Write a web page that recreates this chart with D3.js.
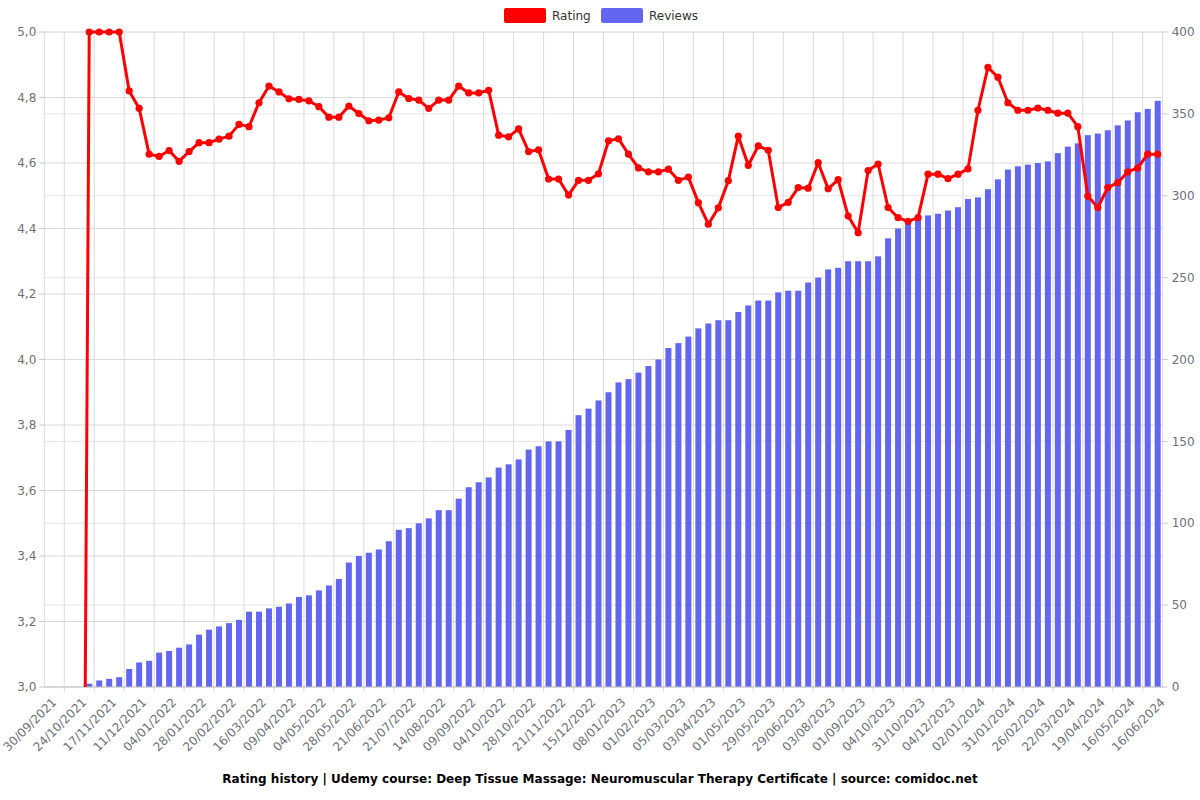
<!DOCTYPE html>
<html>
<head>
<meta charset="utf-8">
<script src="https://cdn.jsdelivr.net/npm/d3@7"></script>
<style>
  body { margin: 0; background: #fff; }
  svg text { font-family: "DejaVu Sans", sans-serif; }
</style>
</head>
<body>
<svg id="chart" width="1200" height="800"></svg>
<script>
// tick labels shown on the x axis (one every 3 snapshots)
const tickLabels = ['30/09/2021', '24/10/2021', '17/11/2021', '11/12/2021', '04/01/2022', '28/01/2022',
    '20/02/2022', '16/03/2022', '09/04/2022', '04/05/2022', '28/05/2022', '21/06/2022', '21/07/2022',
    '14/08/2022', '09/09/2022', '04/10/2022', '28/10/2022', '21/11/2022', '15/12/2022', '08/01/2023',
    '01/02/2023', '05/03/2023', '03/04/2023', '01/05/2023', '29/05/2023', '29/06/2023', '03/08/2023',
    '01/09/2023', '04/10/2023', '31/10/2023', '04/12/2023', '02/01/2024', '31/01/2024', '26/02/2024',
    '22/03/2024', '19/04/2024', '16/05/2024', '16/06/2024'];

const rating = [0, 0, 0, 0, 5.0, 5.0, 5.0, 5.0, 4.82, 4.767, 4.627, 4.62, 4.638, 4.605, 4.635, 4.662,
    4.662, 4.673, 4.682, 4.718, 4.711, 4.784, 4.835, 4.817, 4.796, 4.794, 4.79, 4.772, 4.74, 4.74,
    4.774, 4.751, 4.729, 4.731, 4.738, 4.817, 4.797, 4.792, 4.767, 4.792, 4.792, 4.835, 4.814, 4.814,
    4.822, 4.685, 4.68, 4.704, 4.635, 4.64, 4.551, 4.551, 4.502, 4.547, 4.547, 4.567, 4.668, 4.674,
    4.627, 4.585, 4.573, 4.573, 4.581, 4.547, 4.557, 4.479, 4.413, 4.463, 4.546, 4.682, 4.593, 4.652,
    4.639, 4.464, 4.48, 4.525, 4.523, 4.601, 4.521, 4.549, 4.438, 4.387, 4.577, 4.597, 4.464, 4.433,
    4.422, 4.433, 4.566, 4.566, 4.552, 4.566, 4.582, 4.761, 4.892, 4.862, 4.784, 4.761, 4.761, 4.768,
    4.761, 4.752, 4.752, 4.711, 4.499, 4.464, 4.525, 4.54, 4.573, 4.585, 4.627, 4.627];

const reviews = [0, 0, 0, 0, 2, 4, 5, 6, 11, 15, 16, 21, 22, 24, 26, 32, 35, 37, 39, 41, 46, 46, 48, 49,
    51, 55, 56, 59, 62, 66, 76, 80, 82, 84, 89, 96, 97, 100, 103, 108, 108, 115, 122, 125, 128, 134,
    136, 139, 145, 147, 150, 150, 157, 166, 170, 175, 180, 186, 188, 192, 196, 200, 207, 210, 214, 219,
    222, 224, 224, 229, 233, 236, 236, 241, 242, 242, 247, 250, 255, 256, 260, 260, 260, 263, 274, 280,
    285, 286, 288, 289, 291, 293, 298, 299, 304, 310, 316, 318, 319, 320, 321, 326, 330, 332, 337, 338,
    340, 343, 346, 351, 353, 358];

const ratingTicks = [3.0, 3.2, 3.4, 3.6, 3.8, 4.0, 4.2, 4.4, 4.6, 4.8, 5.0];
const reviewTicks = [0, 50, 100, 150, 200, 250, 300, 350, 400];

const plotLeft = 44.3, plotRight = 1162.7, plotTop = 32, plotBottom = 687;
const svg = d3.select('#chart');

const x = d3.scaleBand()
    .domain(d3.range(reviews.length))
    .range([plotLeft, plotRight])
    .padding(0);
const yRating = d3.scaleLinear().domain([3, 5]).range([plotBottom, plotTop]);
const yReviews = d3.scaleLinear().domain([0, 400]).range([plotBottom, plotTop]);

const fmt = (v) => d3.format('.1f')(v).replace('.', ',');
const cx = (i) => x(i) + x.bandwidth() / 2;

// horizontal grid lines for both axes
svg.append('g')
    .selectAll('line')
    .data(reviewTicks)
    .join('line')
    .attr('x1', plotLeft).attr('x2', plotRight)
    .attr('y1', (d) => yReviews(d)).attr('y2', (d) => yReviews(d))
    .attr('stroke', '#e6e6e6');
svg.append('g')
    .selectAll('line')
    .data(ratingTicks)
    .join('line')
    .attr('x1', plotLeft).attr('x2', plotRight)
    .attr('y1', (d) => yRating(d)).attr('y2', (d) => yRating(d))
    .attr('stroke', '#dadada');

// vertical grid lines, on category boundaries every 3 categories
svg.append('g')
    .selectAll('line')
    .data(d3.range(2, reviews.length, 3))
    .join('line')
    .attr('x1', (d) => x(d)).attr('x2', (d) => x(d))
    .attr('y1', plotTop).attr('y2', plotBottom + 5)
    .attr('stroke', '#dadada');
svg.append('g')
    .selectAll('line')
    .data([plotLeft, plotRight])
    .join('line')
    .attr('x1', (d) => d).attr('x2', (d) => d)
    .attr('y1', plotTop).attr('y2', plotBottom)
    .attr('stroke', '#dadada');

// bars
const barW = x.bandwidth() * 0.6;
svg.append('g')
    .selectAll('rect')
    .data(reviews)
    .join('rect')
    .attr('x', (d, i) => x(i) + (x.bandwidth() - barW) / 2)
    .attr('width', barW)
    .attr('y', (d) => yReviews(d))
    .attr('height', (d) => plotBottom - yReviews(d))
    .attr('fill', '#6366f1');

// x axis line
svg.append('line')
    .attr('x1', plotLeft).attr('x2', plotRight)
    .attr('y1', plotBottom).attr('y2', plotBottom)
    .attr('stroke', '#c8c8c8');

// rating line, clipped to the plot
svg.append('clipPath').attr('id', 'plot')
    .append('rect')
    .attr('x', plotLeft - 6).attr('y', plotTop - 6)
    .attr('width', plotRight - plotLeft + 12).attr('height', plotBottom - plotTop + 6);

const line = d3.line()
    .x((d, i) => cx(i))
    .y((d) => yRating(d));

const lineG = svg.append('g').attr('clip-path', 'url(#plot)');
lineG.append('path')
    .datum(rating)
    .attr('d', line)
    .attr('fill', 'none')
    .attr('stroke', '#ff0000')
    .attr('stroke-width', 3)
    .attr('stroke-linejoin', 'round');
lineG.selectAll('circle')
    .data(rating.map((v, i) => ({ v, i })).filter((d) => d.v >= 3))
    .join('circle')
    .attr('cx', (d) => cx(d.i))
    .attr('cy', (d) => yRating(d.v))
    .attr('r', 3.6)
    .attr('fill', '#ff0000');

// left axis
const leftAxis = svg.append('g');
leftAxis.selectAll('line')
    .data(ratingTicks)
    .join('line')
    .attr('x1', plotLeft - 5).attr('x2', plotLeft)
    .attr('y1', (d) => yRating(d)).attr('y2', (d) => yRating(d))
    .attr('stroke', '#c8c8c8');
leftAxis.selectAll('text')
    .data(ratingTicks)
    .join('text')
    .attr('x', plotLeft - 8)
    .attr('y', (d) => yRating(d))
    .attr('dy', '0.35em')
    .attr('text-anchor', 'end')
    .attr('fill', '#6e7079')
    .style('font-size', '12px')
    .text(fmt);

// right axis
const rightAxis = svg.append('g');
rightAxis.selectAll('line')
    .data(reviewTicks)
    .join('line')
    .attr('x1', plotRight).attr('x2', plotRight + 5)
    .attr('y1', (d) => yReviews(d)).attr('y2', (d) => yReviews(d))
    .attr('stroke', '#c8c8c8');
rightAxis.selectAll('text')
    .data(reviewTicks)
    .join('text')
    .attr('x', plotRight + 9)
    .attr('y', (d) => yReviews(d))
    .attr('dy', '0.35em')
    .attr('fill', '#6e7079')
    .style('font-size', '12px')
    .text((d) => d);

// x labels
svg.append('g')
    .selectAll('text')
    .data(tickLabels)
    .join('text')
    .attr('transform', (d, k) => 'translate(' + (cx(k * 3) + 5) + ',' + (plotBottom + 13) + ') rotate(-45)')
    .attr('text-anchor', 'end')
    .attr('dy', '0.35em')
    .attr('fill', '#6e7079')
    .style('font-size', '12px')
    .text((d) => d);

// legend
const legend = [{ name: 'Rating', color: '#ff0000', x: 504 }, { name: 'Reviews', color: '#6366f1', x: 601 }];
const lg = svg.append('g').selectAll('g').data(legend).join('g')
    .attr('transform', (d) => 'translate(' + d.x + ',8)');
lg.append('rect')
    .attr('width', 42).attr('height', 15).attr('rx', 2)
    .attr('fill', (d) => d.color);
lg.append('text')
    .attr('x', 48).attr('y', 8).attr('dy', '0.35em')
    .attr('fill', '#333')
    .style('font-size', '12px')
    .text((d) => d.name);

// title
svg.append('text')
    .attr('x', 600).attr('y', 783)
    .attr('text-anchor', 'middle')
    .attr('fill', '#000')
    .style('font-size', '12px')
    .style('font-weight', 'bold')
    .text('Rating history | Udemy course: Deep Tissue Massage: Neuromuscular Therapy Certificate | source: comidoc.net');
</script>
</body>
</html>
